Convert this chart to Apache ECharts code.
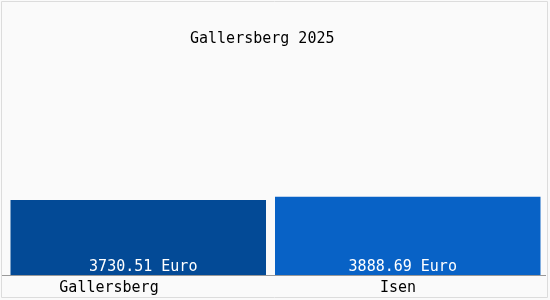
<!DOCTYPE html>
<html><head><meta charset="utf-8">
<script src="https://cdn.jsdelivr.net/npm/echarts@6/dist/echarts.min.js"></script>
<style>html,body{margin:0;padding:0;background:#fafafa}#c{width:550px;height:300px}</style>
</head><body><div id="c"></div>
<script>
const titleText = "Gallersberg 2025";
const categories = ["Gallersberg", "Isen"];
const values = [3730.51, 3888.69];
const unit = "Euro";
const barColors = ["#034a96", "#0862c6"];
const barWidths = [256, 266];
const labelShift = [-34, -10];
const valueShift = [5, -5];

const chart = echarts.init(document.getElementById('c'));
const font = '"DejaVu Sans Mono", monospace';
const FS = 15;
const gridBottom = 25;
chart.setOption({
  backgroundColor: '#fafafa',
  animation: false,
  title: {text: titleText, left: 185, top: 27, textStyle: {fontFamily: font, fontSize: FS, fontWeight: 'normal', color: '#000'}},
  grid: {left: 10.5, right: 9.5, top: 74, bottom: gridBottom},
  xAxis: {
    type: 'category', data: categories,
    axisLine: {show: false},
    axisTick: {show: false},
    axisLabel: {
      margin: 6, color: '#000', fontFamily: font, fontSize: FS,
      formatter: (v, i) => '{l' + i + '|' + v + '}',
      rich: {
        l0: {fontFamily: font, fontSize: FS, color: '#000', padding: [0, -2 * labelShift[0], 0, 0]},
        l1: {fontFamily: font, fontSize: FS, color: '#000', padding: [0, -2 * labelShift[1], 0, 0]}
      }
    }
  },
  yAxis: {type: 'value', min: 0, max: 10000, show: false, splitLine: {show: false}},
  series: values.map((v, i) => ({
    type: 'bar',
    barWidth: barWidths[i],
    barGap: '-100%',
    data: categories.map((c, j) => j === i ? v : '-'),
    itemStyle: {color: barColors[i]},
    label: {
      show: true, position: 'insideBottom', distance: 0, offset: [valueShift[i], 0],
      color: '#fff', fontFamily: font, fontSize: FS,
      formatter: p => p.value.toFixed(2) + ' ' + unit
    }
  })),
  graphic: [
    {type: 'rect', shape: {x: 1.5, y: 1.5, width: 546, height: 296}, style: {fill: 'none', stroke: '#dcdcdc', lineWidth: 1}, silent: true},
    {type: 'line', shape: {x1: 2, y1: 300 - gridBottom + 0.5, x2: 546, y2: 300 - gridBottom + 0.5}, style: {stroke: '#999', lineWidth: 1}, silent: true}
  ]
});
</script></body></html>
